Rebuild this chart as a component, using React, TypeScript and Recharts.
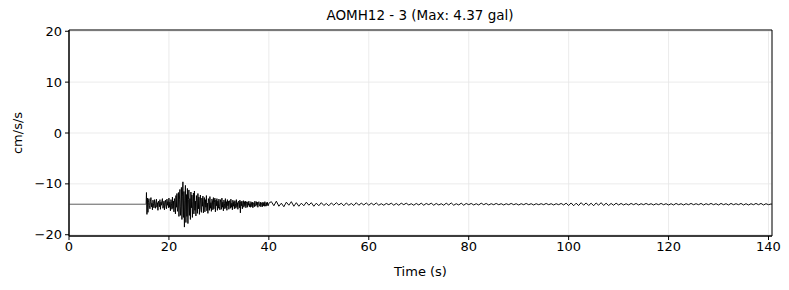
import { CartesianGrid, Line, LineChart, ReferenceArea, XAxis, YAxis } from "recharts";

const TITLE = "AOMH12 - 3 (Max: 4.37 gal)";
const X_TICKS = [0, 20, 40, 60, 80, 100, 120, 140];
const Y_TICKS = [-20, -10, 0, 10, 20];
const X_MAX = 140.7;
const Y_LIM = 20.25;

// trace sits on an offset, values below are deviations from it (cm/s/s)
const BASELINE = -14;

// strong motion part, sampled every 0.1 s from the onset
const ONSET = 15.4;
const DENSE_STEP = 0.1;
const DENSE = [
  0, 2.3, -2.0, 1.2, -1.6, 0.4,
  1.1, -0.3, -0.9, 0.6, 1.3, -0.5, 0.2, -1.1, 0.8, 0.1,
  -0.7, 0.9, -0.2, -0.8, 0.5, 1.0, -0.6, 0.3, -1.2, 0.6,
  0.2, -0.5, 0.9, -1.0, 0.4, -0.2, 0.7, 1.1, -0.8, -0.3,
  0.6, -1.1, 0.3, 0.8, -0.4, -0.9, 1.0, -0.2, 0.5, -0.7,
  1.2, -0.6, 0.4, -1.3, 0.9, 0.2, -1.0, 1.4, -0.8, 0.6,
  -1.5, 1.1, 0.3, -1.9, 1.7, -0.6, 2.1, -1.4, -0.7, 2.3,
  -2.4, 1.0, 2.9, -2.2, -0.5, 3.3, -3.0, 1.6, 4.4, -2.6,
  2.5, -4.5, 0.8, 3.7, -3.6, 1.9, -2.4, 3.1, -3.8, 0.9,
  2.8, -2.2, 1.1, -3.0, 2.4, -0.7, 1.8, -2.6, 0.5, 2.2,
  -1.9, 2.6, -1.2, 0.6, -2.3, 1.7, 0.3, -1.8, 2.1, -0.9,
  1.4, -2.0, 0.7, 1.8, -1.1, -1.6, 1.2, -0.4, 1.6, -1.7,
  0.5, 1.3, -1.5, 0.9, -0.6, 1.7, -1.3, 0.2, -1.8, 1.1,
  0.6, -1.2, 1.5, -0.8, 0.3, -1.4, 1.0, 0.7, -1.1, 1.3,
  -0.9, 0.4, 1.2, -1.5, 0.8, -0.3, 1.1, -1.2, 0.6, -0.8,
  1.0, -0.5, -1.1, 0.9, 0.3, -1.0, 1.2, -0.6, 0.4, -1.3,
  0.8, 0.2, -0.9, 1.1, -0.7, 0.5, -1.2, 0.9, -0.3, 0.6,
  -1.0, 0.7, 0.4, -0.8, 1.0, -0.6, 0.2, -1.1, 0.8, -0.4,
  0.5, -0.9, 0.7, 0.1, -0.8, 0.9, -0.5, 0.3, -1.0, 0.6,
  0.4, -0.7, 0.8, -1.7, 0.5, -0.3, 0.6, -0.9, 0.2, 0.7,
  -0.6, 0.5, -0.3, 0.6, -0.7, 0.2, 0.5, -0.6, 0.4, -0.2,
  0.6, -0.5, 0.1, -0.6, 0.5, 0.3, -0.5, 0.4, -0.7, 0.3,
  0.2, -0.5, 0.6, -0.3, -0.4, 0.5, -0.2, 0.4, -0.6, 0.3,
  0.5, -0.2, -0.4, 0.4, -0.5, 0.3, 0.1, -0.5, 0.4, -0.3,
  0.3, -0.4, 0.5, -0.1, -0.4, 0.3, -0.3, 0.4, -0.2, -0.3,
  0.2,
];

// coda, every 0.5 s
const CODA_START = 40.5;
const CODA_STEP = 0.5;
const CODA = [
  0.5, -0.3, 0.6, -0.4, 0.2, -0.5, 0.4, -0.2, 0.5, -0.4,
  0.3, -0.4, 0.2, -0.3, 0.4, -0.2, 0.3, -0.4, 0.2, -0.3,
  0.3, -0.25, 0.15, -0.3, 0.25, -0.2, 0.3, -0.15, 0.2, -0.3,
  0.25, -0.2, 0.15, -0.25, 0.3, -0.2, 0.2, -0.15, 0.25, -0.2,
  0.2, -0.15, 0.25, -0.2, 0.1, -0.2, 0.15, -0.1, 0.2, -0.2,
  0.15, -0.2, 0.2, -0.1, 0.2, -0.15, 0.1, -0.2, 0.15, -0.15,
  0.2, -0.2, 0.15, -0.1, 0.2, -0.2, 0.15, -0.15, 0.1, -0.2,
  0.2, -0.15, 0.25, -0.2, 0.1, -0.15, 0.2, -0.2, 0.15, -0.1,
  0.15, -0.15, 0.1, -0.15, 0.2, -0.1, 0.15, -0.15, 0.1, -0.1,
  0.15, -0.1, 0.1, -0.15, 0.1, -0.1, 0.15, -0.1, 0.1, -0.15,
  0.1, -0.1, 0.15, -0.1, 0.1, -0.15, 0.1, -0.1, 0.1, -0.1,
  0.15, -0.1, 0.1, -0.15, 0.1, -0.1, 0.15, -0.15, 0.2, -0.25,
  0.25, -0.3, 0.2, -0.25, 0.3, -0.2, 0.25, -0.25, 0.2, -0.3,
  0.25, -0.2, 0.3, -0.25, 0.2, -0.25, 0.15, -0.2, 0.2, -0.15,
  0.15, -0.15, 0.1, -0.15, 0.15, -0.1, 0.15, -0.15, 0.1, -0.1,
  0.15, -0.1, 0.1, -0.15, 0.1, -0.1, 0.15, -0.1, 0.1, -0.15,
  0.1, -0.15, 0.15, -0.1, 0.1, -0.15, 0.1, -0.1, 0.15, -0.1,
  0.1, -0.1, 0.15, -0.15, 0.1, -0.1, 0.15, -0.1, 0.1, -0.15,
  0.15, -0.1, 0.1, -0.15, 0.15, -0.1, 0.1, -0.1, 0.15, -0.15,
  0.1, -0.15, 0.1, -0.1, 0.15, -0.1, 0.15, -0.15, 0.1, -0.1,
  0.05,
];

const data = [
  { t: 0, v: BASELINE },
  ...DENSE.map((d, i) => ({ t: ONSET + i * DENSE_STEP, v: BASELINE + d })),
  ...CODA.map((d, i) => ({ t: CODA_START + i * CODA_STEP, v: BASELINE + d })),
  { t: X_MAX, v: BASELINE },
];

const FONT = "'DejaVu Sans', sans-serif";
const TICK = { fontSize: 13, fill: "#000", fontFamily: FONT };
const fmt = (v: number) => (v < 0 ? "\u2212" + Math.abs(v) : String(v));
const onsetPct = `${((ONSET / X_MAX) * 100).toFixed(2)}%`;

export default function App() {
  return (
    <div style={{ position: "absolute", left: 0, top: 0, width: 789, height: 290, background: "#fff", fontFamily: FONT }}>
      <div style={{ position: "absolute", left: 69, width: 702, top: 7, textAlign: "center", fontSize: 13.5, color: "#000" }}>
        {TITLE}
      </div>
      <LineChart width={789} height={290} data={data} margin={{ top: 30, right: 17, left: 29, bottom: 24 }}>
        <defs>
          <linearGradient id="trace" x1="0" y1="0" x2="1" y2="0">
            <stop offset="0%" stopColor="#555" />
            <stop offset={onsetPct} stopColor="#555" />
            <stop offset={onsetPct} stopColor="#000" />
            <stop offset="100%" stopColor="#000" />
          </linearGradient>
        </defs>
        <CartesianGrid stroke="#e6e6e6" strokeWidth={0.8} />
        <XAxis
          type="number"
          dataKey="t"
          domain={[0, X_MAX]}
          ticks={X_TICKS}
          allowDataOverflow
          tick={TICK}
          tickFormatter={fmt}
          tickSize={4}
          tickMargin={2}
          stroke="#000"
          height={30}
          label={{ value: "Time (s)", position: "insideBottom", offset: -10, style: { fontSize: 13, fill: "#000", fontFamily: FONT } }}
        />
        <YAxis
          type="number"
          domain={[-Y_LIM, Y_LIM]}
          ticks={Y_TICKS}
          allowDataOverflow
          tick={TICK}
          tickFormatter={fmt}
          tickSize={4}
          tickMargin={3}
          stroke="#000"
          width={40}
          label={{ value: "cm/s/s", angle: -90, position: "insideLeft", offset: -12, style: { fontSize: 13, fill: "#000", fontFamily: FONT, textAnchor: "middle" } }}
        />
        <Line
          type="linear"
          dataKey="v"
          stroke="url(#trace)"
          strokeWidth={0.95}
          dot={false}
          isAnimationActive={false}
        />
        <ReferenceArea x1={0} x2={X_MAX} y1={-Y_LIM} y2={Y_LIM} fill="none" stroke="#000" strokeWidth={1} ifOverflow="extendDomain" />
      </LineChart>
    </div>
  );
}
